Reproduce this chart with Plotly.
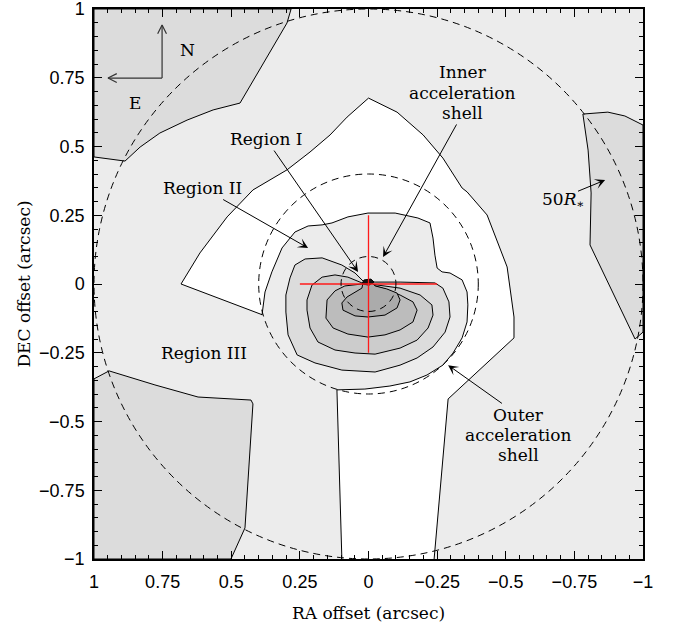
import plotly.graph_objects as go

# ---------------- axis ticks ----------------
tick_vals = [1, 0.75, 0.5, 0.25, 0, -0.25, -0.5, -0.75, -1]

# ---------------- shaded sky areas (RA offset, DEC offset; arcsec) ----------------
patch_ne_x = [1.0, 0.282, 0.297, 0.468, 0.566, 0.661, 0.760, 0.832, 0.887, 1.0]
patch_ne_y = [1.0, 1.0, 0.949, 0.658, 0.633, 0.596, 0.549, 0.498, 0.447, 0.462]

patch_se_x = [1.0, 1.0, 0.945, 0.778, 0.621, 0.428, 0.421, 0.450, 0.501]
patch_se_y = [-1.0, -0.345, -0.316, -0.367, -0.411, -0.422, -0.436, -0.887, -1.0]

patch_w_x = [-0.781, -0.872, -0.934, -1.0, -1.0, -0.971, -0.807, -0.811, -0.800]
patch_w_y = [0.618, 0.625, 0.611, 0.578, -0.175, -0.200, 0.142, 0.331, 0.487]

# white region: drawn outline, bottom strip edge, and hidden inner closure
white_edge_x = [0.384, 0.683, 0.614, 0.515, 0.421, 0.297, 0.213, 0.140, 0.078, 0.0,
                -0.104, -0.199, -0.271, -0.341, -0.359, -0.432, -0.505, -0.530, -0.530,
                -0.290, -0.239]
white_edge_y = [-0.113, 0.0, 0.113, 0.244, 0.342, 0.415, 0.480, 0.542, 0.607, 0.676,
                0.625, 0.542, 0.458, 0.349, 0.335, 0.251, 0.062, -0.120, -0.196,
                -0.418, -1.0]
white_strip_x = [0.097, 0.115]
white_strip_y = [-1.0, -0.385]
white_inner_x = [0.104, 0.0, 0.286]
white_inner_y = [-0.367, -0.058, -0.076]

# ---------------- intensity contours ----------------
# outermost level: visible outline plus the part that merges with the background
lev1_edge_x = [0.388, 0.377, 0.352, 0.315, 0.268, 0.220, 0.169, 0.133, 0.075, 0.002,
               -0.097, -0.180, -0.224, -0.235, -0.242, -0.250, -0.268, -0.297, -0.341,
               -0.359, -0.362, -0.359, -0.341, -0.308, -0.271, -0.213, -0.151, -0.078,
               0.013, 0.115]
lev1_edge_y = [-0.113, -0.029, 0.044, 0.131, 0.189, 0.211, 0.215, 0.222, 0.244, 0.258,
               0.258, 0.240, 0.222, 0.167, 0.105, 0.058, 0.044, 0.040, 0.015,
               -0.029, -0.076, -0.138, -0.196, -0.251, -0.295, -0.331, -0.356, -0.371,
               -0.382, -0.385]
lev1_hidden_x = [0.195, 0.268, 0.341, 0.384]
lev1_hidden_y = [-0.353, -0.298, -0.222, -0.138]

lev2_x = [0.020, 0.049, 0.097, 0.169, 0.231, 0.268, 0.286, 0.301, 0.301, 0.293, 0.260,
          0.195, 0.097, -0.024, -0.115, -0.177, -0.235, -0.279, -0.297, -0.293, -0.271,
          -0.242, -0.115, -0.024]
lev2_y = [0.011, 0.040, 0.069, 0.095, 0.091, 0.069, 0.022, -0.040, -0.102, -0.185, -0.258,
          -0.287, -0.313, -0.320, -0.295, -0.269, -0.229, -0.175, -0.120, -0.065, -0.015,
          0.004, 0.007, 0.007]

lev3_x = [0.024, 0.075, 0.122, 0.169, 0.206, 0.224, 0.224, 0.213, 0.184, 0.122, 0.049,
          -0.024, -0.115, -0.177, -0.217, -0.235, -0.231, -0.188, -0.115, -0.042]
lev3_y = [0.004, 0.025, 0.033, 0.025, -0.004, -0.058, -0.095, -0.160, -0.211, -0.240,
          -0.251, -0.255, -0.233, -0.204, -0.160, -0.113, -0.076, -0.040, -0.015, -0.004]

lev4_x = [0.024, 0.086, 0.122, 0.151, 0.155, 0.129, 0.075, 0.002, -0.060, -0.115,
          -0.162, -0.177, -0.162, -0.115, -0.060, -0.013]
lev4_y = [0.0, -0.007, -0.025, -0.058, -0.124, -0.160, -0.182, -0.193, -0.185, -0.167,
          -0.138, -0.095, -0.065, -0.040, -0.018, -0.004]

lev5_x = [0.020, 0.024, 0.078, 0.097, 0.093, 0.049, 0.002, -0.060, -0.104, -0.115,
          -0.104, -0.067, -0.024, -0.013]
lev5_y = [0.004, -0.015, -0.047, -0.069, -0.095, -0.116, -0.120, -0.113, -0.087, -0.058,
          -0.033, -0.018, -0.007, 0.004]

core_x = [0.024, 0.016, -0.009, -0.020, -0.002]
core_y = [0.0, 0.015, 0.018, 0.007, -0.004]

# stellar position cross (arcsec)
cross_half = 0.25

# shell radii (arcsec)
r_inner_shell = 0.1
r_outer_shell = 0.4
r_50rstar = 1.0

# compass origin and arm tips
compass_origin = (0.752, 0.749)
compass_north = (0.752, 0.942)
compass_east = (0.949, 0.749)

fills = {"bg": "#ececec", "patch": "#dcdcdc", "lev1": "#ececec", "lev2": "#dcdcdc",
         "lev3": "#cccccc", "lev4": "#bcbcbc", "lev5": "#ababab"}


def closed(v):
    return list(v) + [v[0]]


def polygon(x, y, color, width=1.0):
    return go.Scatter(x=closed(x), y=closed(y), mode="lines", fill="toself",
                      fillcolor=color,
                      line=dict(color="black" if width > 0 else color, width=width),
                      hoverinfo="skip", showlegend=False)


def path(x, y, color="black", width=1.0):
    return go.Scatter(x=x, y=y, mode="lines", line=dict(color=color, width=width),
                      hoverinfo="skip", showlegend=False)


fig = go.Figure()

# shaded corner areas
fig.add_trace(polygon(patch_ne_x, patch_ne_y, fills["patch"]))
fig.add_trace(polygon(patch_se_x, patch_se_y, fills["patch"]))
fig.add_trace(polygon(patch_w_x, patch_w_y, fills["patch"]))

# white region
wx = white_edge_x + white_strip_x + white_inner_x
wy = white_edge_y + white_strip_y + white_inner_y
fig.add_trace(polygon(wx, wy, "#ffffff", width=0))
fig.add_trace(path(white_edge_x, white_edge_y))
fig.add_trace(path(white_strip_x, white_strip_y))

# contour levels
fig.add_trace(polygon(lev1_edge_x + lev1_hidden_x, lev1_edge_y + lev1_hidden_y,
                      fills["lev1"], width=0))
fig.add_trace(path(lev1_edge_x, lev1_edge_y))
fig.add_trace(polygon(lev2_x, lev2_y, fills["lev2"]))
fig.add_trace(polygon(lev3_x, lev3_y, fills["lev3"]))
fig.add_trace(polygon(lev4_x, lev4_y, fills["lev4"]))
fig.add_trace(polygon(lev5_x, lev5_y, fills["lev5"]))
fig.add_trace(polygon(core_x, core_y, "#111111"))

# cross marking the star
fig.add_trace(path([cross_half, -cross_half], [0, 0], color="#ff1a1a", width=1.3))
fig.add_trace(path([0, 0], [cross_half, -cross_half], color="#ff1a1a", width=1.3))

# dashed shells
for r in (r_inner_shell, r_outer_shell, r_50rstar):
    fig.add_shape(type="circle", xref="x", yref="y", x0=-r, x1=r, y0=-r, y1=r,
                  line=dict(color="black", width=1, dash="7px,5px"), layer="above")

# compass arms with open arrowheads
ox, oy = compass_origin
nx, ny = compass_north
ex, ey = compass_east
barb_l, barb_w = 0.032, 0.016
compass_col = "#333333"
fig.add_trace(path([ox, nx], [oy, ny], color=compass_col, width=1.2))
fig.add_trace(path([nx + barb_w, nx, nx - barb_w], [ny - barb_l, ny, ny - barb_l],
                   color=compass_col, width=1.2))
fig.add_trace(path([ox, ex], [oy, ey], color=compass_col, width=1.2))
fig.add_trace(path([ex - barb_l, ex, ex - barb_l], [ey + barb_w, ey, ey - barb_w],
                   color=compass_col, width=1.2))

serif = "DejaVu Serif"
tfont = dict(family=serif, size=17, color="black")
arrow_style = dict(arrowhead=3, arrowsize=1.7, arrowwidth=1, arrowcolor="black",
                   standoff=0)


def label(x, y, text, tip=None, size=17):
    kw = dict(showarrow=False)
    if tip is not None:
        kw = dict(showarrow=True, ax=x, ay=y, axref="x", ayref="y", **arrow_style)
        x, y = tip
    fig.add_annotation(x=x, y=y, xref="x", yref="y", text=text,
                       font=dict(family=serif, size=size, color="black"),
                       align="center", **kw)


label(0.373, 0.527, "Region I", tip=(0.038, 0.044))
label(0.603, 0.349, "Region II", tip=(0.220, 0.131))
label(0.599, -0.251, "Region III")

label(-0.344, 0.771, "Inner")
label(-0.344, 0.696, "acceleration")
label(-0.344, 0.622, "shell", tip=(-0.053, 0.098))

label(-0.545, -0.476, "Outer", tip=(-0.290, -0.295))
label(-0.545, -0.549, "acceleration")
label(-0.545, -0.622, "shell")

# 50 R_* with the asterisk set as a lowered, smaller glyph
label(-0.694, 0.309, "50<i>R</i>", tip=(-0.862, 0.378))
label(-0.770, 0.291, "∗", size=12)

label(0.661, 0.851, "N")
label(0.850, 0.658, "E")

axis_common = dict(
    tickmode="array", tickvals=tick_vals,
    ticks="inside", ticklen=8, tickwidth=1, tickcolor="black",
    minor=dict(dtick=0.05, tick0=0, ticks="inside", ticklen=4, tickwidth=1,
               tickcolor="black"),
    showline=True, linecolor="black", linewidth=1.5, mirror="ticks",
    showgrid=False, zeroline=False, automargin=False, ticklabeloverflow="allow",
    tickfont=dict(family="Liberation Sans", size=18, color="black"),
)

fig.update_xaxes(range=[1, -1], ticklabelstandoff=6,
                 title=dict(text="RA offset (arcsec)", font=tfont, standoff=16),
                 **axis_common)
fig.update_yaxes(range=[-1, 1], ticklabelstandoff=4,
                 title=dict(text="DEC offset (arcsec)", font=tfont, standoff=4),
                 **axis_common)

fig.update_layout(width=676, height=629, margin=dict(l=94, r=33, t=9, b=70),
                  plot_bgcolor=fills["bg"], paper_bgcolor="white", showlegend=False)

fig.write_html("out.html")
